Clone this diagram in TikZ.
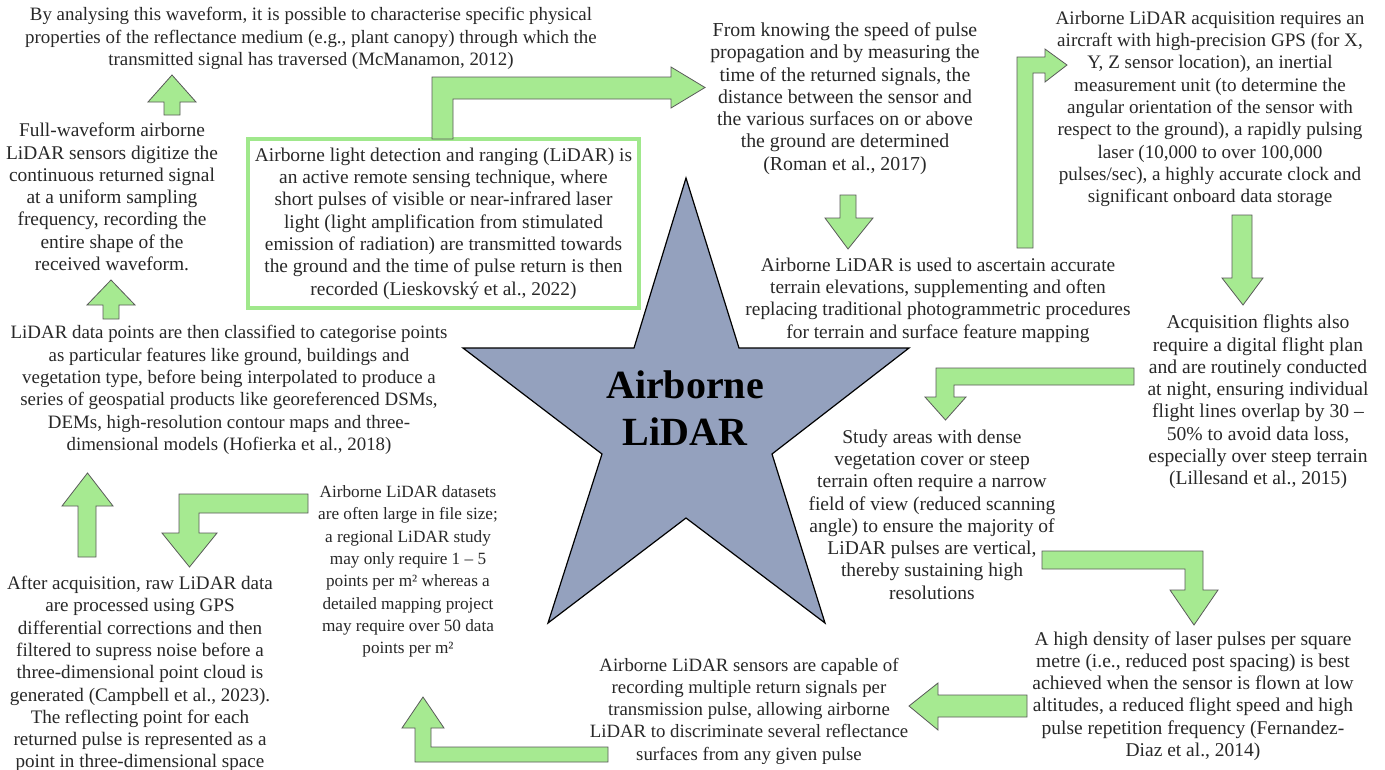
\documentclass[tikz,border=0pt]{standalone}
\usepackage{fontspec}
\setmainfont{Liberation Serif}
\definecolor{arrowgreen}{RGB}{166,234,145}
\definecolor{boxgreen}{RGB}{160,232,140}
\definecolor{edgegray}{RGB}{90,90,90}
\definecolor{textgray}{RGB}{40,40,40}
\definecolor{starfill}{RGB}{148,161,190}
\begin{document}
\begin{tikzpicture}[x=1pt,y=-1pt,
  txt/.style={align=center, inner sep=0pt, text=textgray,
    font=\fontsize{#1}{22.3}\selectfont},
  txt/.default=19.4,
  blockarrow/.style={fill=arrowgreen, draw=edgegray, line width=0.8pt, line join=miter}]
\useasboundingbox (0,0) rectangle (1385,769);
\fill[white] (0,0) rectangle (1385,769);

% central star
\draw[fill=starfill, draw=black, line width=1.2pt, line join=miter]
  (686,178) -- (739,348) -- (909,348) -- (772,454) -- (825,623) -- (686,518)
  -- (548,623) -- (602,454) -- (463,348) -- (634,348) -- cycle;
\node[align=center, inner sep=0pt, font=\fontsize{40}{47}\selectfont\bfseries] (hub) at (685,408) {Airborne\\LiDAR};

% statements around the star
\node[txt=18.9] (wave) at (311,38.5) {By analysing this waveform, it is possible to characterise specific physical\\properties of the reflectance medium (e.g., plant canopy) through which the\\transmitted signal has traversed (McManamon, 2012)};
\node[txt=19.4] (full) at (112,197) {Full-waveform airborne\\LiDAR sensors digitize the\\continuous returned signal\\at a uniform sampling\\frequency, recording the\\entire shape of the\\received waveform.};
\node[txt=18.9] (class) at (229,390) {LiDAR data points are then classified to categorise points\\as particular features like ground, buildings and\\vegetation type, before being interpolated to produce a\\series of geospatial products like georeferenced DSMs,\\DEMs, high-resolution contour maps and three-\\dimensional models (Hofierka et al., 2018)};
\node[txt=19.1] (proc) at (140,674) {After acquisition, raw LiDAR data\\are processed using GPS\\differential corrections and then\\filtered to supress noise before a\\three-dimensional point cloud is\\generated (Campbell et al., 2023).\\The reflecting point for each\\returned pulse is represented as a\\point in three-dimensional space};
\node[txt=17.2] (size) at (408,571.5) {Airborne LiDAR datasets\\are often large in file size;\\a regional LiDAR study\\may only require 1 – 5\\points per m² whereas a\\detailed mapping project\\may require over 50 data\\points per m²};
\node[txt=19.4, draw=boxgreen, line width=4pt, minimum width=391pt, minimum height=169pt] (intro) at (443.5,223.5) {Airborne light detection and ranging (LiDAR) is\\an active remote sensing technique, where\\short pulses of visible or near-infrared laser\\light (light amplification from stimulated\\emission of radiation) are transmitted towards\\the ground and the time of pulse return is then\\recorded (Lieskovský et al., 2022)};
\node[txt=19.8] (speed) at (845,98.5) {From knowing the speed of pulse\\propagation and by measuring the\\time of the returned signals, the\\distance between the sensor and\\the various surfaces on or above\\the ground are determined\\(Roman et al., 2017)};
\node[txt=19.4] (terrain) at (938,300) {Airborne LiDAR is used to ascertain accurate\\terrain elevations, supplementing and often\\replacing traditional photogrammetric procedures\\for terrain and surface feature mapping};
\node[txt=19.1] (acq) at (1210,109) {Airborne LiDAR acquisition requires an\\aircraft with high-precision GPS (for X,\\Y, Z sensor location), an inertial\\measurement unit (to determine the\\angular orientation of the sensor with\\respect to the ground), a rapidly pulsing\\laser (10,000 to over 100,000\\pulses/sec), a highly accurate clock and\\significant onboard data storage};
\node[txt=19.6] (flights) at (1258,402) {Acquisition flights also\\require a digital flight plan\\and are routinely conducted\\at night, ensuring individual\\flight lines overlap by 30 –\\50\% to avoid data loss,\\especially over steep terrain\\(Lillesand et al., 2015)};
\node[txt=19.5] (study) at (932,514.5) {Study areas with dense\\vegetation cover or steep\\terrain often require a narrow\\field of view (reduced scanning\\angle) to ensure the majority of\\LiDAR pulses are vertical,\\thereby sustaining high\\resolutions};
\node[txt=19.5] (density) at (1193,696) {A high density of laser pulses per square\\metre (i.e., reduced post spacing) is best\\achieved when the sensor is flown at low\\altitudes, a reduced flight speed and high\\pulse repetition frequency (Fernandez-\\Diaz et al., 2014)};
\node[txt=18.8] (multi) at (749,711) {Airborne LiDAR sensors are capable of\\recording multiple return signals per\\transmission pulse, allowing airborne\\LiDAR to discriminate several reflectance\\surfaces from any given pulse};

% block arrows between the statements
% intro -> speed
\draw[blockarrow] (432,139) -- (432,77) -- (671,77) -- (671,67) -- (705,87.5)
  -- (671,108) -- (671,99) -- (453,99) -- (453,139) -- cycle;
% speed -> terrain
\draw[blockarrow] (840,195) -- (856,195) -- (856,218) -- (873,218) -- (848,249)
  -- (825,218) -- (840,218) -- cycle;
% terrain -> acq
\draw[blockarrow] (1017,248) -- (1017,57) -- (1045,57) -- (1045,49) -- (1067,65)
  -- (1045,82) -- (1045,73) -- (1033,73) -- (1033,248) -- cycle;
% acq -> flights
\draw[blockarrow] (1232,215) -- (1252,215) -- (1252,278) -- (1263,278) -- (1243,305)
  -- (1222,278) -- (1232,278) -- cycle;
% flights -> study
\draw[blockarrow] (1134,368) -- (936,368) -- (936,397) -- (925,397) -- (945.5,420)
  -- (966,397) -- (954,397) -- (954,385) -- (1134,385) -- cycle;
% study -> density
\draw[blockarrow] (1042,551) -- (1203,551) -- (1203,590) -- (1218,590) -- (1194,625)
  -- (1170,590) -- (1185,590) -- (1185,569) -- (1042,569) -- cycle;
% density -> multi
\draw[blockarrow] (1027,695) -- (1027,717) -- (938,717) -- (938,730) -- (909,706)
  -- (938,683) -- (938,695) -- cycle;
% multi -> size
\draw[blockarrow] (608,747) -- (608,762) -- (415,762) -- (415,728) -- (402,728)
  -- (423,697) -- (444,728) -- (431,728) -- (431,747) -- cycle;
% size -> proc
\draw[blockarrow] (308,494) -- (179,494) -- (179,533) -- (162,533) -- (189.5,567)
  -- (217,533) -- (199,533) -- (199,513) -- (308,513) -- cycle;
% proc -> class
\draw[blockarrow] (78,557) -- (78,506) -- (62,506) -- (87.5,473) -- (113,506)
  -- (96,506) -- (96,557) -- cycle;
% class -> full
\draw[blockarrow] (103,319) -- (103,305) -- (87,305) -- (111,280) -- (135,305)
  -- (119,305) -- (119,319) -- cycle;
% full -> wave
\draw[blockarrow] (164,115) -- (164,102) -- (148,102) -- (172,75) -- (196,102)
  -- (180,102) -- (180,115) -- cycle;
\end{tikzpicture}
\end{document}
